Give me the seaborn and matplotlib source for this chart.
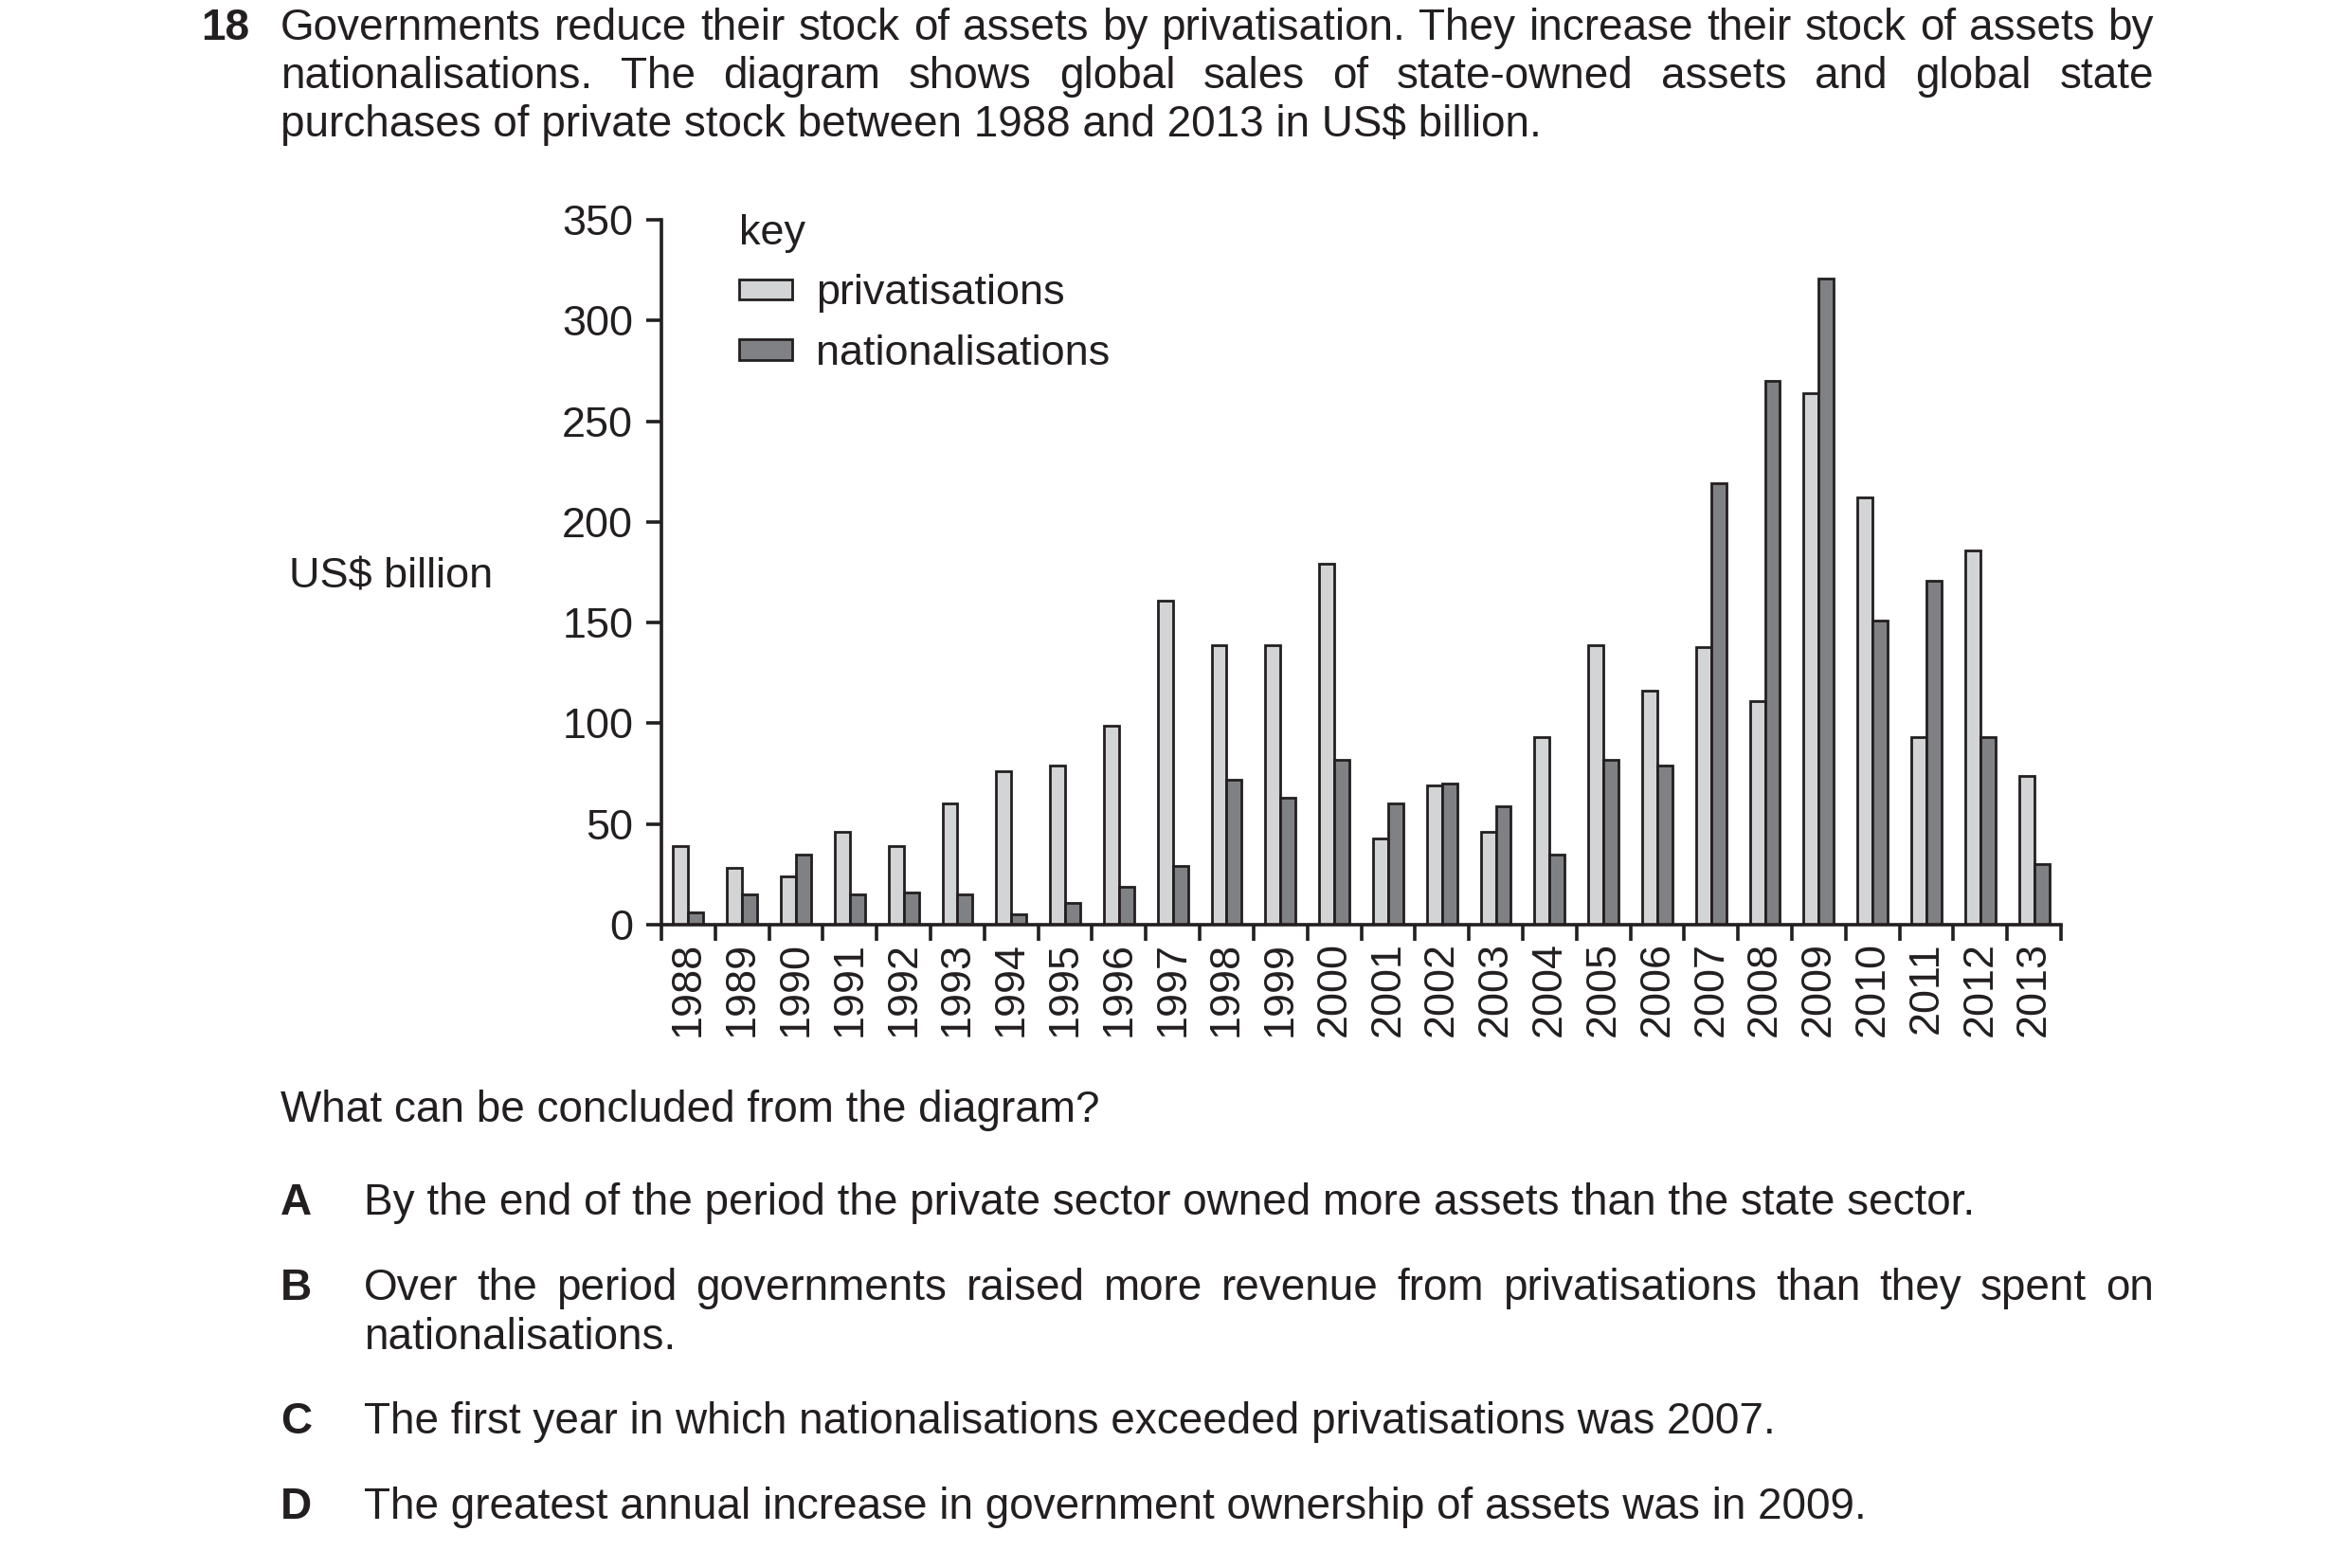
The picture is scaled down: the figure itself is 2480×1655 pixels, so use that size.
import numpy as np
import pandas as pd
import matplotlib
matplotlib.use("Agg")
import matplotlib.pyplot as plt
import seaborn as sns
from matplotlib.transforms import IdentityTransform

# ---------------- data ----------------
years = [str(y) for y in range(1988, 2014)]
privatisations = [39, 28, 24, 46, 39, 60, 76, 79, 99, 161, 139, 139, 179,
                  43, 69, 46, 93, 139, 116, 138, 111, 264, 212, 93, 186, 74]
nationalisations = [6, 15, 35, 15, 16, 15, 5, 11, 19, 29, 72, 63, 82,
                    60, 70, 59, 35, 82, 79, 219, 270, 321, 151, 171, 93, 30]
series_names = ["privatisations", "nationalisations"]
y_ticks = [0, 50, 100, 150, 200, 250, 300, 350]

question_no = "18"
intro_lines = [
    "Governments reduce their stock of assets by privatisation. They increase their stock of assets by",
    "nationalisations. The diagram shows global sales of state-owned assets and global state",
    "purchases of private stock between 1988 and 2013 in US$ billion.",
]
prompt = "What can be concluded from the diagram?"
options = [
    ("A", ["By the end of the period the private sector owned more assets than the state sector."]),
    ("B", ["Over the period governments raised more revenue from privatisations than they spent on",
           "nationalisations."]),
    ("C", ["The first year in which nationalisations exceeded privatisations was 2007."]),
    ("D", ["The greatest annual increase in government ownership of assets was in 2009."]),
]
y_label = "US$ billion"
legend_title = "key"

# ---------------- style ----------------
W, H = 2480, 1655
INK = "#231f20"
LIGHT = "#d3d4d6"
DARK = "#808184"

sns.set_theme(style="ticks")
plt.rcParams["font.family"] = ["Liberation Sans", "DejaVu Sans"]
plt.rcParams["text.color"] = INK

fig = plt.figure(figsize=(W / 100, H / 100), dpi=100)
fig.patch.set_facecolor("white")
R = fig.canvas.get_renderer()


def text_width(s, fs, weight="normal"):
    t = fig.text(0, 0, s, fontsize=fs, weight=weight)
    w = t.get_window_extent(R).width
    t.remove()
    return w


BF = 20 * 1328 / text_width(intro_lines[2], 20)   # body font size
CF = 20 * 215 / text_width(y_label, 20)            # chart font size


def put(x, yb, s, fs, weight="normal", ha="left"):
    fig.text(x, H - yb, s, fontsize=fs, weight=weight, ha=ha, va="baseline",
             color=INK, transform=IdentityTransform())


def justify(s, x0, x1, yb, fs):
    words = s.split(" ")
    ws = [text_width(w, fs) for w in words]
    gap = (x1 - x0 - sum(ws)) / (len(words) - 1)
    x = x0
    for w, wd in zip(words, ws):
        put(x, yb, w, fs)
        x += wd + gap


# ---------------- text ----------------
X0, X1 = 296, 2273
put(212, 42, question_no, BF, weight="bold")
justify(intro_lines[0], X0, X1, 42, BF)
justify(intro_lines[1], X0, X1, 93, BF)
put(X0, 144, intro_lines[2], BF)

put(X0, 1184, prompt, BF)
opt_base = {"A": [1282], "B": [1372, 1424], "C": [1513], "D": [1603]}
for letter, lines in options:
    ys = opt_base[letter]
    put(X0, ys[0], letter, BF, weight="bold")
    for i, (ln, yb) in enumerate(zip(lines, ys)):
        if letter == "B" and i == 0:
            justify(ln, 384, X1, yb, BF)
        else:
            put(384, yb, ln, BF)

# ---------------- chart ----------------
ax = fig.add_axes([698 / W, 1 - 976 / H, (2175 - 698) / W, (976 - 232) / H])
df = pd.DataFrame({
    "year": years * 2,
    "series": [series_names[0]] * len(years) + [series_names[1]] * len(years),
    "value": privatisations + nationalisations,
})
sns.barplot(data=df, x="year", y="value", hue="series", hue_order=series_names,
            palette=[LIGHT, DARK], width=0.56, gap=0, saturation=1,
            edgecolor=INK, linewidth=2.0, errorbar=None, ax=ax)

ax.set_xlim(-0.5, len(years) - 0.5)
ax.set_ylim(0, 350)
ax.set_yticks(y_ticks)
ax.set_xlabel("")
ax.set_ylabel("")
ax.set_facecolor("white")
sns.despine(ax=ax)
for s in ["left", "bottom"]:
    ax.spines[s].set_linewidth(2.6)
    ax.spines[s].set_color(INK)

ax.tick_params(axis="y", length=11.5, width=2.6, pad=10, labelsize=CF,
               color=INK, labelcolor=INK)
ax.tick_params(axis="x", which="major", length=0, pad=13, labelsize=CF,
               labelrotation=90, labelcolor=INK)
ax.set_xticks(np.arange(-0.5, len(years), 1), minor=True)
ax.tick_params(axis="x", which="minor", length=12, width=2.6, color=INK)

fig.text(305 / W, 1 - 609 / H, y_label, fontsize=CF, ha="left", va="center",
         color=INK)

handles, labels = ax.get_legend_handles_labels()
if ax.get_legend() is not None:
    ax.get_legend().remove()
leg = ax.legend(handles, labels, title=legend_title, loc="upper left",
                bbox_to_anchor=(780 / W, 1 - 226 / H), bbox_transform=fig.transFigure,
                frameon=False, fontsize=CF, title_fontsize=CF, alignment="left",
                handlelength=1.25, handleheight=0.36, handletextpad=0.55,
                labelspacing=0.5, borderpad=0, borderaxespad=0)
for t in leg.get_texts():
    t.set_color(INK)
leg.get_title().set_color(INK)

fig.savefig("out.png", dpi=100, facecolor="white")
